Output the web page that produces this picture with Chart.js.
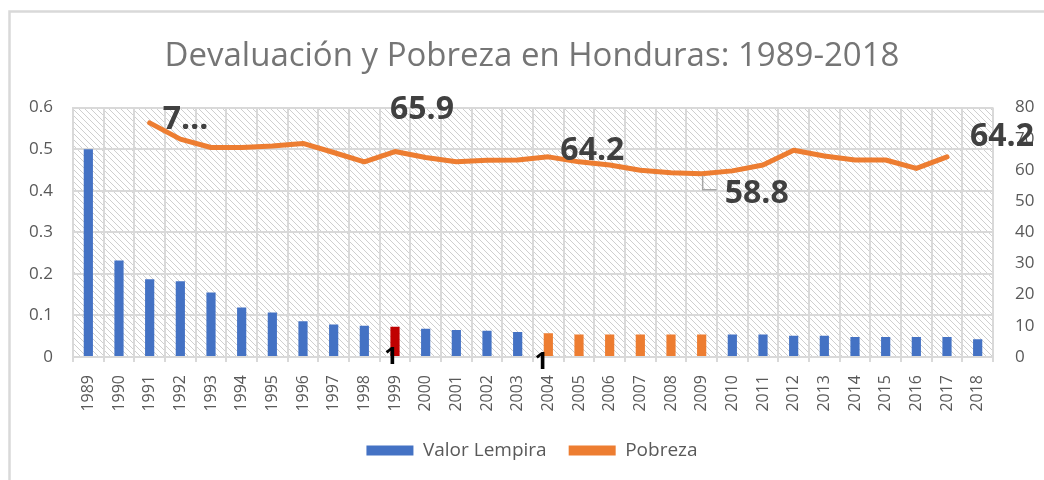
<!DOCTYPE html>
<html>
<head>
<meta charset="utf-8">
<script src="https://cdn.jsdelivr.net/npm/chart.js@4.4.1/dist/chart.umd.min.js"></script>
<style>
  html, body { margin: 0; padding: 0; background: #fff; }
  #wrap { width: 1044px; height: 480px; }
</style>
</head>
<body>
<div id="wrap"><canvas id="chart"></canvas></div>
<script>
// Years on the category axis
const years = ['1989', '1990', '1991', '1992', '1993', '1994', '1995', '1996', '1997', '1998',
  '1999', '2000', '2001', '2002', '2003', '2004', '2005', '2006', '2007', '2008',
  '2009', '2010', '2011', '2012', '2013', '2014', '2015', '2016', '2017', '2018'];

// Valor Lempira (left axis)
const valorLempira = [0.5, 0.232, 0.187, 0.182, 0.155, 0.119, 0.107, 0.086, 0.078, 0.075,
  0.073, 0.068, 0.065, 0.063, 0.060, 0.057, 0.054, 0.054, 0.054, 0.054,
  0.054, 0.054, 0.054, 0.051, 0.051, 0.048, 0.048, 0.048, 0.048, 0.043];

// Pobreza (right axis), no data for 1989, 1990 and 2018
const pobreza = [null, null, 75.1, 69.9, 67.2, 67.2, 67.7, 68.5, 65.6, 62.6,
  65.9, 64.0, 62.6, 63.1, 63.2, 64.2, 62.6, 61.6, 59.9, 59.1,
  58.8, 59.7, 61.6, 66.3, 64.5, 63.2, 63.2, 60.5, 64.2, null];

// data labels shown in the picture
const pobrezaLabels = { '1991': '7…', '1999': '65.9', '2004': '64.2', '2009': '58.8', '2017': '64.2' };
const lempiraLabels = { '1999': '1', '2004': '1' };

const leftTicks = [0, 0.1, 0.2, 0.3, 0.4, 0.5, 0.6];
const rightTicks = [0, 10, 20, 30, 40, 50, 60, 70, 80];

// bar colours
const BLUE = '#4472C4', RED = '#C00000', ORANGE = '#ED7D31';
const redYears = ['1999'];
const orangeYears = ['2004', '2005', '2006', '2007', '2008', '2009'];
const barColors = years.map(y => redYears.includes(y) ? RED : orangeYears.includes(y) ? ORANGE : BLUE);

const GRID = '#D9D9D9';
const TEXT = '#595959';
const FONT = "'Open Sans', sans-serif";

// where each label sits relative to its point (dx, baseline dy)
const lineLabelPos = {
  '1991': [13, 6], '1999': [-5, -33], '2004': [12, 3], '2009': [23, 29], '2017': [23, -11]
};

function makeHatch(ctx) {
  const c = document.createElement('canvas');
  c.width = 6; c.height = 6;
  const g = c.getContext('2d');
  g.fillStyle = '#fff';
  g.fillRect(0, 0, 6, 6);
  g.strokeStyle = '#CFCFCF';
  g.lineWidth = 1;
  g.beginPath();
  g.moveTo(-1, -1); g.lineTo(7, 7);
  g.moveTo(-1, 5); g.lineTo(1, 7);
  g.moveTo(5, -1); g.lineTo(7, 1);
  g.stroke();
  return ctx.createPattern(c, 'repeat');
}

const backdrop = {
  id: 'backdrop',
  beforeDraw(chart) {
    const { ctx, chartArea: a } = chart;
    ctx.save();
    ctx.fillStyle = '#fff';
    ctx.fillRect(0, 0, chart.width, chart.height);
    // outer frame (only top and left edges are in view)
    ctx.strokeStyle = GRID;
    ctx.lineWidth = 2.5;
    ctx.beginPath();
    ctx.moveTo(9.5, chart.height + 5);
    ctx.lineTo(9.5, 11.5);
    ctx.lineTo(chart.width + 5, 11.5);
    ctx.stroke();
    ctx.fillStyle = makeHatch(ctx);
    ctx.fillRect(a.left, a.top, a.right - a.left, a.bottom - a.top);
    ctx.restore();
  }
};

const dataLabels = {
  id: 'dataLabels',
  afterDatasetsDraw(chart) {
    const { ctx } = chart;
    const x = chart.scales.x, y = chart.scales.y, y1 = chart.scales.y1;
    ctx.save();
    ctx.textBaseline = 'alphabetic';
    // labels on the poverty line
    ctx.font = "bold 32px " + FONT;
    ctx.fillStyle = '#404040';
    ctx.textAlign = 'left';
    Object.keys(pobrezaLabels).forEach(yr => {
      const i = years.indexOf(yr);
      const px = x.getPixelForValue(i), py = y1.getPixelForValue(pobreza[i]);
      const [dx, dy] = lineLabelPos[yr];
      if (yr === '2009') {
        ctx.strokeStyle = '#A6A6A6';
        ctx.lineWidth = 1.5;
        ctx.beginPath();
        ctx.moveTo(px + 1, py + 2);
        ctx.lineTo(px + 1, py + 16);
        ctx.lineTo(px + 15, py + 16);
        ctx.stroke();
      }
      ctx.fillText(pobrezaLabels[yr], px + dx, py + dy);
    });
    // labels under the bars
    ctx.font = "bold 24px " + FONT;
    ctx.fillStyle = '#000';
    ctx.textAlign = 'center';
    Object.keys(lempiraLabels).forEach((yr, k) => {
      const i = years.indexOf(yr);
      const px = x.getPixelForValue(i), py = y.getPixelForValue(0);
      ctx.fillText(lempiraLabels[yr], px + (k === 0 ? -4 : -7), py + (k === 0 ? 7 : 12));
    });
    ctx.restore();
  }
};

new Chart(document.getElementById('chart'), {
  data: {
    labels: years,
    datasets: [
      {
        type: 'bar',
        label: 'Valor Lempira',
        data: valorLempira,
        backgroundColor: barColors,
        yAxisID: 'y',
        barPercentage: 0.3,
        categoryPercentage: 1,
        order: 2
      },
      {
        type: 'line',
        label: 'Pobreza',
        data: pobreza,
        borderColor: ORANGE,
        backgroundColor: ORANGE,
        borderWidth: 5,
        pointRadius: 0,
        borderJoinStyle: 'round',
        borderCapStyle: 'round',
        tension: 0,
        yAxisID: 'y1',
        order: 1
      }
    ]
  },
  options: {
    responsive: true,
    maintainAspectRatio: false,
    animation: false,
    layout: { padding: { left: 20, right: 0, top: 0, bottom: 10 } },
    plugins: {
      title: {
        display: true,
        text: 'Devaluación y Pobreza en Honduras: 1989-2018',
        color: '#757575',
        font: { family: FONT, size: 33, weight: 'normal' },
        padding: { top: 37, bottom: 31 }
      },
      legend: {
        position: 'bottom',
        labels: {
          color: TEXT,
          font: { family: FONT, size: 19 },
          boxWidth: 47,
          boxHeight: 10,
          padding: 22,
          sort: (a, b) => a.datasetIndex - b.datasetIndex,
          generateLabels(chart) {
            return Chart.defaults.plugins.legend.labels.generateLabels(chart)
              .map(l => Object.assign(l, { lineWidth: 0 }));
          }
        }
      },
      tooltip: { enabled: false }
    },
    scales: {
      x: {
        offset: true,
        grid: { offset: true, color: GRID, lineWidth: 2, drawTicks: true, tickLength: 5 },
        border: { color: GRID, width: 2 },
        ticks: {
          color: TEXT,
          font: { family: FONT, size: 16 },
          minRotation: 90,
          maxRotation: 90,
          autoSkip: false,
          padding: 13
        },
        afterFit(s) { s.height = 62; }
      },
      y: {
        position: 'left',
        min: 0,
        max: 0.6,
        afterBuildTicks(s) { s.ticks = leftTicks.map(v => ({ value: v })); },
        grid: { color: GRID, lineWidth: 2, drawTicks: false },
        border: { color: GRID, width: 2 },
        ticks: {
          color: TEXT,
          font: { family: FONT, size: 17 },
          padding: 20,
          callback: v => String(v)
        },
        afterFit(s) { s.width = 53; }
      },
      y1: {
        position: 'right',
        min: 0,
        max: 80,
        afterBuildTicks(s) { s.ticks = rightTicks.map(v => ({ value: v })); },
        grid: { display: false, drawTicks: false },
        border: { display: false },
        ticks: {
          color: TEXT,
          font: { family: FONT, size: 17 },
          padding: 22
        },
        afterFit(s) { s.width = 51; }
      }
    }
  },
  plugins: [backdrop, dataLabels]
});
</script>
</body>
</html>
